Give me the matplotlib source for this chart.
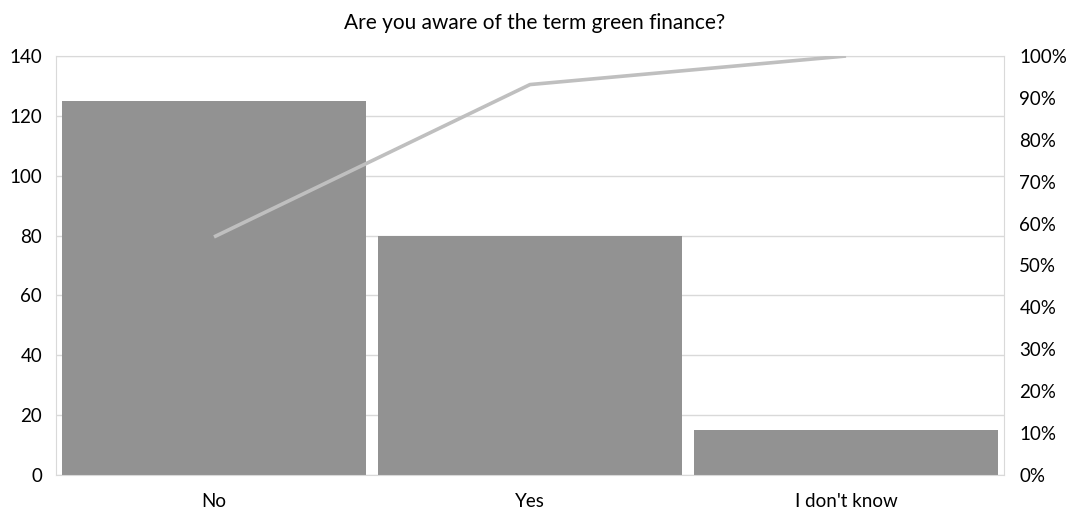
import matplotlib
matplotlib.use("Agg")
import matplotlib.pyplot as plt
import numpy as np
from matplotlib.ticker import PercentFormatter

categories = ["No", "Yes", "I don't know"]
counts = [125, 80, 15]
title = "Are you aware of the term green finance?"

cum = np.cumsum(counts) / np.sum(counts) * 100

plt.rcParams['font.family'] = ['Lato', 'DejaVu Sans']

fig = plt.figure(figsize=(10.69, 5.14), dpi=100)
ax = fig.add_axes([56/1069, 39/514, 948/1069, 419/514])
x = np.arange(len(categories))
ax.bar(x, counts, width=0.965, color="#929292", zorder=2)
ax.set_xlim(-0.5, len(categories) - 0.5)
ax.set_ylim(0, 140)
ax.set_yticks(np.arange(0, 141, 20))
ax.set_xticks(x)
ax.set_xticklabels(categories)
ax.grid(axis='y', color="#d9d9d9", linewidth=1, zorder=0)
ax.set_axisbelow(True)
for s in ax.spines.values():
    s.set_color("#d9d9d9")
ax.tick_params(length=0, labelsize=13.5, colors="#000000", pad=10)
ax.tick_params(axis='x', pad=13)

ax2 = ax.twinx()
ax2.plot(x, cum, color="#bfbfbf", linewidth=2.6, zorder=3, solid_capstyle='butt')
ax2.set_ylim(0, 100)
ax2.set_yticks(np.arange(0, 101, 10))
ax2.yaxis.set_major_formatter(PercentFormatter(decimals=0))
ax2.tick_params(length=0, labelsize=13.5, pad=11)
for s in ax2.spines.values():
    s.set_visible(False)

fig.suptitle(title, y=0.975, fontsize=15)
fig.savefig("out.png", dpi=100)
